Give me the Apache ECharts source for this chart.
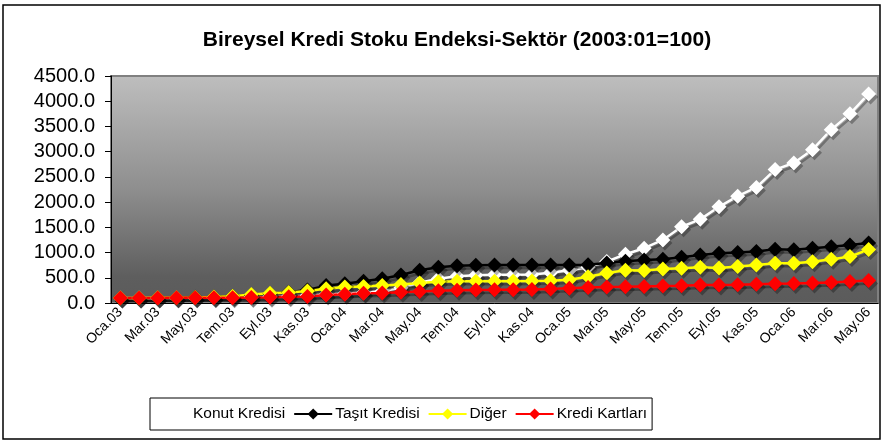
<!DOCTYPE html>
<html>
<head>
<meta charset="utf-8">
<title>Bireysel Kredi Stoku Endeksi</title>
<script src="https://cdn.jsdelivr.net/npm/echarts@6/dist/echarts.min.js"></script>
<style>
    html, body { margin: 0; padding: 0; background: #fff; }
    #chart { width: 885px; height: 445px; }
</style>
</head>
<body>
<div id="chart"></div>
<script>
// aylar (2003:01 - 2006:05)
var categories = [
    'Oca.03', 'Şub.03', 'Mar.03', 'Nis.03', 'May.03', 'Haz.03', 'Tem.03', 'Ağu.03', 'Eyl.03', 'Eki.03', 'Kas.03', 'Ara.03',
    'Oca.04', 'Şub.04', 'Mar.04', 'Nis.04', 'May.04', 'Haz.04', 'Tem.04', 'Ağu.04', 'Eyl.04', 'Eki.04', 'Kas.04', 'Ara.04',
    'Oca.05', 'Şub.05', 'Mar.05', 'Nis.05', 'May.05', 'Haz.05', 'Tem.05', 'Ağu.05', 'Eyl.05', 'Eki.05', 'Kas.05', 'Ara.05',
    'Oca.06', 'Şub.06', 'Mar.06', 'Nis.06', 'May.06'
];
var seriesNames = ['Konut Kredisi', 'Taşıt Kredisi', 'Diğer', 'Kredi Kartları'];
var konut = [100, 100, 101, 103, 106, 110, 115, 120, 130, 140, 155, 170,
    185, 205, 240, 300, 400, 480, 530, 550, 560, 560, 565, 600,
    650, 710, 821, 967, 1086, 1250, 1512, 1658, 1907, 2118, 2290, 2645,
    2775, 3040, 3435, 3750, 4145];
var tasit = [100, 100, 102, 106, 112, 120, 135, 160, 185, 215, 260, 345,
    380, 430, 480, 555, 650, 710, 740, 750, 755, 755, 755, 755,
    755, 760, 795, 830, 850, 868, 905, 950, 985, 1000, 1020, 1065,
    1055, 1085, 1117, 1150, 1190];
var diger = [100, 100, 102, 105, 110, 118, 135, 170, 195, 210, 237, 282,
    316, 328, 345, 365, 395, 420, 430, 430, 430, 432, 435, 440,
    460, 520, 595, 650, 645, 675, 690, 710, 695, 725, 755, 790,
    790, 820, 865, 920, 1060];
var krediKarti = [100, 100, 101, 102, 103, 104, 106, 110, 115, 122, 130, 160,
    175, 195, 200, 215, 230, 245, 255, 260, 262, 265, 270, 280,
    292, 305, 316, 320, 328, 335, 341, 355, 358, 361, 370, 381,
    385, 395, 407, 427, 446];
var colors = ['#ffffff', '#000000', '#ffff00', '#ff0000'];

var chart = echarts.init(document.getElementById('chart'));

function lineSeries(name, data, color) {
    return {
        name: name,
        type: 'line',
        data: data,
        symbol: 'diamond',
        symbolSize: 15,
        showAllSymbol: true,
        color: color,
        lineStyle: {
            width: 2.5,
            color: color,
            shadowColor: 'rgba(0,0,0,0.3)',
            shadowOffsetX: 2,
            shadowOffsetY: 3
        },
        itemStyle: {
            color: color,
            borderWidth: 0,
            shadowColor: 'rgba(0,0,0,0.3)',
            shadowOffsetX: 2,
            shadowOffsetY: 3
        },
        animation: false
    };
}

var option = {
    backgroundColor: '#ffffff',
    title: {
        text: 'Bireysel Kredi Stoku Endeksi-Sektör (2003:01=100)',
        left: 452,
        top: 25,
        textAlign: 'center',
        textStyle: {
            fontFamily: 'Liberation Sans, Arial, sans-serif',
            fontSize: 21,
            fontWeight: 'bold',
            color: '#000'
        }
    },
    legend: {
        data: seriesNames,
        left: 150,
        top: 398,
        itemWidth: 38,
        itemHeight: 14,
        itemGap: 8,
        padding: [8, 5, 8, 1],
        borderColor: '#000',
        borderWidth: 1,
        backgroundColor: '#fff',
        textStyle: {
            fontFamily: 'Liberation Sans, Arial, sans-serif',
            fontSize: 15.5,
            color: '#000',
            padding: [0, 0, 0, -2]
        }
    },
    grid: {
        left: 111,
        right: 7,
        top: 76,
        bottom: 142,
        show: true,
        borderColor: '#808080',
        borderWidth: 2,
        backgroundColor: {
            type: 'linear',
            x: 0, y: 0, x2: 0, y2: 1,
            colorStops: [
                { offset: 0, color: '#bebebe' },
                { offset: 0.5, color: '#8e8e8e' },
                { offset: 0.88, color: '#5e5e5e' },
                { offset: 1, color: '#5b5b5b' }
            ]
        }
    },
    xAxis: {
        type: 'category',
        data: categories,
        boundaryGap: true,
        axisLine: { lineStyle: { color: '#000', width: 1 } },
        axisTick: { interval: 1, length: 5, lineStyle: { color: '#000' } },
        axisLabel: {
            interval: 1,
            rotate: 45,
            margin: 7,
            fontFamily: 'Liberation Sans, Arial, sans-serif',
            fontSize: 14,
            color: '#000'
        },
        splitLine: { show: false }
    },
    yAxis: {
        type: 'value',
        min: 0,
        max: 4500,
        interval: 500,
        axisLine: { show: true, lineStyle: { color: '#000', width: 1 } },
        axisTick: { show: true, length: 6, lineStyle: { color: '#000' } },
        axisLabel: {
            margin: 16,
            fontFamily: 'Liberation Sans, Arial, sans-serif',
            fontSize: 20,
            color: '#000',
            formatter: function (v) {
                return v.toFixed(1);
            }
        },
        splitLine: { show: false }
    },
    graphic: [{
        type: 'rect',
        shape: { x: 3, y: 5, width: 877, height: 434 },
        style: { fill: 'none', stroke: '#000', lineWidth: 1.5 },
        silent: true,
        z: 100
    }],
    series: [
        lineSeries(seriesNames[0], konut, colors[0]),
        lineSeries(seriesNames[1], tasit, colors[1]),
        lineSeries(seriesNames[2], diger, colors[2]),
        lineSeries(seriesNames[3], krediKarti, colors[3])
    ]
};

chart.setOption(option);
</script>
</body>
</html>
